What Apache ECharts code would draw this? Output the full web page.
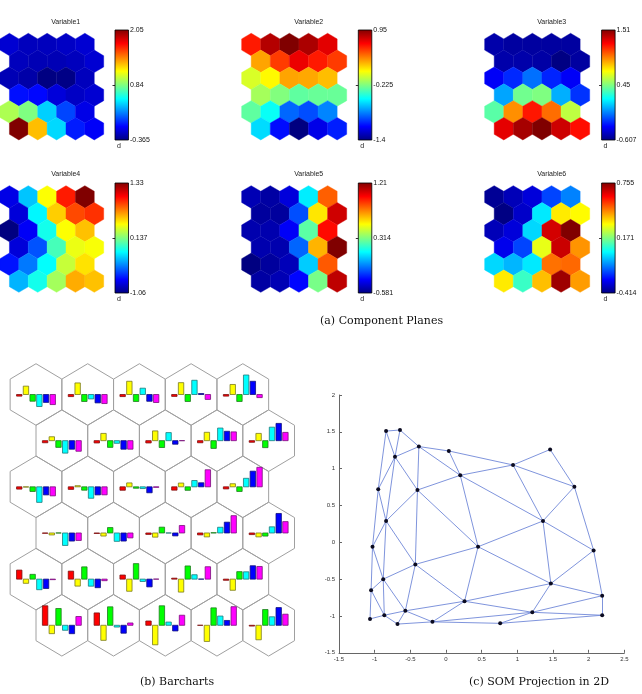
<!DOCTYPE html>
<html><head><meta charset="utf-8">
<script src="https://cdn.jsdelivr.net/npm/echarts@6/dist/echarts.min.js"></script>
<style>html,body{margin:0;padding:0;background:#fff}#c{width:642px;height:694px}</style>
</head><body><div id="c"></div>
<script>
// ---------------- DATA ----------------
const variableNames = ['Variable1','Variable2','Variable3','Variable4','Variable5','Variable6'];
// codebook values, 6 map rows (top to bottom) x 5 map columns
const var1 = [
 [-0.17,-0.22,-0.22,-0.20,-0.17],
 [-0.22,-0.24,-0.24,-0.22,-0.17],
 [-0.24,-0.27,-0.36,-0.35,-0.22],
 [-0.03,-0.05,-0.15,-0.20,-0.17],
 [0.95,0.84,0.43,0.10,-0.12],
 [2.05,1.30,0.45,0.00,-0.08]];
const var2 = [
 [0.60,0.83,0.95,0.85,0.72],
 [0.28,0.52,0.70,0.60,0.52],
 [-0.02,0.08,0.28,0.27,0.22],
 [-0.14,-0.22,-0.30,-0.28,-0.28],
 [-0.30,-0.50,-0.87,-0.93,-0.80],
 [-0.60,-1.08,-1.40,-1.16,-1.04]];
const var3 = [
 [-0.52,-0.54,-0.54,-0.54,-0.54],
 [-0.52,-0.52,-0.53,-0.60,-0.54],
 [-0.36,-0.26,-0.11,-0.27,-0.36],
 [0.00,0.42,0.45,0.02,-0.24],
 [0.37,0.95,1.20,1.02,0.58],
 [1.30,1.43,1.51,1.35,1.22]];
const var4 = [
 [-0.82,-0.30,0.43,0.97,1.33],
 [-0.85,-0.18,0.55,0.86,0.92],
 [-1.06,-0.78,-0.12,0.43,0.58],
 [-0.85,-0.57,0.00,0.39,0.42],
 [-0.72,-0.48,-0.16,0.30,0.50],
 [-0.34,-0.12,0.22,0.63,0.58]];
const var5 = [
 [-0.49,-0.52,-0.42,0.06,0.82],
 [-0.53,-0.53,-0.22,0.58,1.07],
 [-0.50,-0.50,-0.37,0.25,0.97],
 [-0.50,-0.50,-0.18,0.67,1.21],
 [-0.58,-0.53,-0.48,0.00,0.83],
 [-0.52,-0.49,-0.35,0.30,1.10]];
const var6 = [
 [-0.39,-0.35,-0.31,-0.19,-0.12],
 [-0.41,-0.33,0.00,0.34,0.32],
 [-0.35,-0.31,-0.02,0.66,0.755],
 [-0.29,-0.19,0.29,0.67,0.44],
 [-0.02,-0.06,0.00,0.48,0.49],
 [0.34,0.09,0.39,0.72,0.43]];
// colorbar tick labels (bottom, middle, top)
const cbBottom = ['-0.365','-1.4','-0.607','-1.06','-0.581','-0.414'];
const cbMiddle = ['0.84','-0.225','0.45','0.137','0.314','0.171'];
const cbTop    = ['2.05','0.95','1.51','1.33','1.21','0.755'];
// SOM projection coordinates of the 30 units (lattice rows x columns)
const somX = [
 [1.46,1.80,2.07,2.19,2.19],
 [0.94,1.36,1.47,1.21,0.76],
 [0.04,0.20,0.45,0.26,-0.19],
 [-0.38,-0.40,-0.43,-0.57,-0.68],
 [-0.645,-0.715,-0.84,-0.88,-0.865],
 [-0.84,-0.95,-1.03,-1.05,-1.065]];
const somY = [
 [1.26,0.755,-0.11,-0.725,-0.99],
 [1.05,0.29,-0.56,-0.95,-1.10],
 [1.24,0.91,-0.06,-0.80,-1.08],
 [1.30,0.71,-0.30,-0.93,-1.11],
 [1.525,1.16,0.29,-0.50,-0.99],
 [1.51,0.72,-0.06,-0.65,-1.04]];
const projXTicks = [-1.5,2.5,0.5]; // min, max, step
const projYTicks = [-1.5,2,0.5];
const captions = ['(a) Component Planes','(b) Barcharts','(c) SOM Projection in 2D'];

// ---------------- LAYOUT / STYLE ----------------
const planes = [var1,var2,var3,var4,var5,var6];
const JET = ['#000080','#0000ff','#0080ff','#00ffff','#80ff80','#ffff00','#ff8000','#ff0000','#800000'];
const BAR_FILL = ['#ff0000','#ffff00','#00ff00','#00ffff','#0000ff','#ff00ff'];
const BAR_EDGE = ['#7a1010','#7a7a20','#207a20','#207a7a','#10107a','#7a107a'];
const ROWS = 6, COLS = 5, RH = Math.sqrt(3)/2, VR = 1/Math.sqrt(3), SH = VR/2;
const FONT = 'Liberation Sans';
const cellX = (r,c) => c + (r%2)*0.5;
const cellY = r => -r*RH;
function hexPts(api,cx,cy){
  return [[cx,cy+VR],[cx+0.5,cy+SH],[cx+0.5,cy-SH],[cx,cy-VR],[cx-0.5,cy-SH],[cx-0.5,cy+SH]].map(p=>api.coord(p));
}
const PX=[8.2,251.2,494.2], PY=[44.5,196.9], SX=19.1, SY=19.45;
const CBX=[115,358.3,601.6], CBY=[30,183], CBW=13.5, CBH=110;

const grids=[], xAxes=[], yAxes=[], series=[], visualMaps=[], graphics=[];
function addGrid(g, xa, ya){
  const gi = grids.length; grids.push(g);
  xAxes.push(Object.assign({gridIndex:gi,type:'value'},xa));
  yAxes.push(Object.assign({gridIndex:gi,type:'value'},ya));
  return gi;
}
const hidden = {show:false};

for (let p=0;p<6;p++){
  const pc=p%3, pr=Math.floor(p/3);
  const mn=parseFloat(cbBottom[p]), mx=parseFloat(cbTop[p]), md=(mn+mx)/2;
  const gi = addGrid({left:PX[pc]-0.5*SX, top:PY[pr]-VR*SY, width:5.5*SX, height:(5*RH+2*VR)*SY},
     Object.assign({min:-0.5,max:5.0},hidden), Object.assign({min:-5*RH-VR,max:VR},hidden));
  const data=[];
  for(let r=0;r<ROWS;r++)for(let c=0;c<COLS;c++) data.push([cellX(r,c),cellY(r),planes[p][r][c]]);
  series.push({type:'custom', xAxisIndex:gi, yAxisIndex:gi, data, encode:{x:0,y:1}, silent:true,
    renderItem:(params,api)=>{const col=api.visual('color');
      return {type:'polygon',shape:{points:hexPts(api,api.value(0),api.value(1))},style:{fill:col,stroke:col,lineWidth:0.4}};}});
  visualMaps.push({type:'continuous',show:false,seriesIndex:series.length-1,dimension:2,min:mn,max:mx,inRange:{color:JET}});
  // colorbar
  const cg = addGrid({left:CBX[pc],top:CBY[pr],width:CBW,height:CBH},
     Object.assign({min:0,max:1},hidden),
     {min:mn,max:mx,position:'right',axisLine:{show:false},splitLine:{show:false},
      axisTick:{show:true,inside:true,length:2.5,customValues:[md],lineStyle:{color:'#000',width:0.8}},
      axisLabel:{customValues:[mn,md,mx],margin:1.5,fontSize:7,fontFamily:FONT,color:'#111',
        formatter:(v)=>{const arr=[[mn,cbBottom[p]],[md,cbMiddle[p]],[mx,cbTop[p]]];
          let best=arr[0];arr.forEach(a=>{if(Math.abs(a[0]-v)<Math.abs(best[0]-v))best=a;});return best[1];}}});
  series.push({type:'custom',xAxisIndex:cg,yAxisIndex:cg,data:[[0,mn,mx]],silent:true,
    renderItem:(params,api)=>{const a=api.coord([0,api.value(2)]),b=api.coord([1,api.value(1)]);
      const stops=JET.map((c,i)=>({offset:i/(JET.length-1),color:c}));
      return {type:'rect',shape:{x:a[0],y:a[1],width:b[0]-a[0],height:b[1]-a[1]},
        style:{fill:new echarts.graphic.LinearGradient(0,1,0,0,stops),stroke:'#000',lineWidth:0.8}};}});
  graphics.push({type:'text',left:PX[pc]+2.25*SX,top:(pr?174.5:23)-4,style:{text:variableNames[p],font:'7px '+FONT,fill:'#222',textAlign:'center'}});
  graphics.push({type:'text',x:CBX[pc]+2,y:CBY[pr]+CBH+3,style:{text:'d',font:'7px '+FONT,fill:'#222'}});
}

// ---------------- BARCHARTS ----------------
const BX=51.7, BY=53.3;
const bg = addGrid({left:36-0.6*BX, top:394.5-0.65*BY, width:5.6*BX, height:5.65*BY},
  Object.assign({min:-0.6,max:5.0},hidden), Object.assign({min:-5.0,max:0.65},hidden));
const cells=[];
for(let r=0;r<ROWS;r++)for(let c=0;c<COLS;c++) cells.push([cellX(r,c),cellY(r)]);
series.push({type:'custom',xAxisIndex:bg,yAxisIndex:bg,data:cells,silent:true,
  renderItem:(params,api)=>({type:'polygon',shape:{points:hexPts(api,api.value(0),api.value(1))},
    style:{fill:'none',stroke:'#a0a0a0',lineWidth:1}})});
const maxAbs = planes.map(pl=>Math.max(...pl.flat().map(Math.abs)));
const BAR_STEP=6.7/BX, BAR_W=5.4/BX, BAR_FULL=19.5/BY;
const barData=[];
for(let k=0;k<6;k++)for(let r=0;r<ROWS;r++)for(let c=0;c<COLS;c++)
  barData.push([cellX(r,c),cellY(r),planes[k][r][c],k]);
series.push({type:'custom',xAxisIndex:bg,yAxisIndex:bg,data:barData,encode:{x:0,y:1},silent:true,
  renderItem:(params,api)=>{
    const k=api.value(3), x0=api.value(0)+(k-2.5)*BAR_STEP-BAR_W/2, y0=api.value(1);
    const h=api.value(2)/maxAbs[k]*BAR_FULL;
    const p1=api.coord([x0,y0]), p2=api.coord([x0+BAR_W,y0+h]);
    return {type:'rect',shape:{x:p1[0],y:Math.min(p1[1],p2[1]),width:p2[0]-p1[0],height:Math.abs(p2[1]-p1[1])},
      style:{fill:BAR_FILL[k],stroke:BAR_EDGE[k],lineWidth:0.8}};}});

// ---------------- SOM PROJECTION ----------------
const axStyle = {axisLine:{show:true,onZero:false,lineStyle:{color:'#666',width:1}},
  axisTick:{show:true,inside:true,length:3,lineStyle:{color:'#666'}},splitLine:{show:false},
  axisLabel:{fontSize:6,fontFamily:FONT,color:'#333',margin:4}};
const pg = addGrid({left:339,top:395,width:285.3,height:257.8},
  Object.assign({min:projXTicks[0],max:projXTicks[1],interval:projXTicks[2]},axStyle),
  Object.assign({min:projYTicks[0],max:projYTicks[1],interval:projYTicks[2]},axStyle));
const nodes=[], links=[];
const id=(r,c)=>r*COLS+c;
for(let r=0;r<ROWS;r++)for(let c=0;c<COLS;c++){
  nodes.push({value:[somX[r][c],somY[r][c]]});
  if(c<COLS-1) links.push({source:id(r,c),target:id(r,c+1)});
  if(r<ROWS-1){
    const nb = (r%2===0)?[c-1,c]:[c,c+1];
    nb.forEach(cc=>{if(cc>=0&&cc<COLS) links.push({source:id(r,c),target:id(r+1,cc)});});
  }
}
series.push({type:'graph',coordinateSystem:'cartesian2d',xAxisIndex:pg,yAxisIndex:pg,data:nodes,links,
  symbol:'circle',symbolSize:4,itemStyle:{color:'#0b0b20'},lineStyle:{color:'#7088d8',width:0.9,opacity:1},
  label:{show:false},emphasis:{disabled:true},silent:true});

// captions
graphics.push({type:'text',left:320,top:316,style:{text:captions[0],font:'11px DejaVu Serif',fill:'#111',textAlign:'center'}});
graphics.push({type:'text',left:140,top:677,style:{text:captions[1],font:'11px DejaVu Serif',fill:'#111',textAlign:'center'}});
graphics.push({type:'text',left:469,top:677,style:{text:captions[2],font:'11px DejaVu Serif',fill:'#111',textAlign:'center'}});

const chart = echarts.init(document.getElementById('c'),null,{renderer:'canvas'});
chart.setOption({animation:false,backgroundColor:'#fff',grid:grids,xAxis:xAxes,yAxis:yAxes,
  visualMap:visualMaps,series,graphic:graphics});
</script></body></html>
